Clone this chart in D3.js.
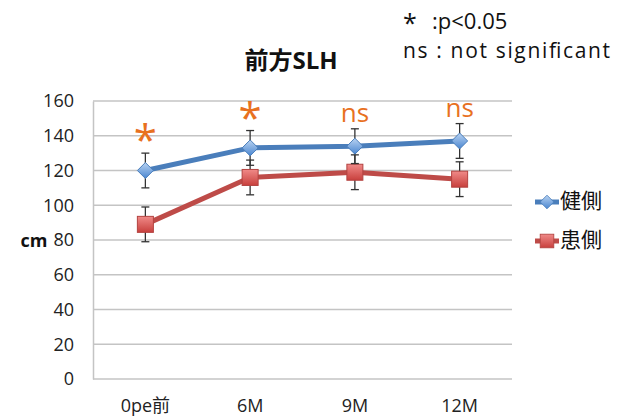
<!DOCTYPE html>
<html>
<head>
<meta charset="utf-8">
<script src="https://cdn.jsdelivr.net/npm/d3@7"></script>
<style>
  html, body { margin: 0; padding: 0; background: #fff; }
  svg { display: block; }
  text { font-family: "Open Sans", "Noto Sans CJK JP", sans-serif; }
</style>
</head>
<body>
<svg id="chart" width="617" height="416"></svg>
<script>
// Time points and measured means (cm) with error bars
const categories = ["0pe前", "6M", "9M", "12M"];
const healthySide = [120, 133, 134, 137];   // 健側
const affectedSide = [89, 116, 119, 115];   // 患側
const healthyErr = [10, 10, 10, 10];
const affectedErr = [10, 10, 10, 10];
const significance = ["*", "*", "ns", "ns"];
const yTicks = [0, 20, 40, 60, 80, 100, 120, 140, 160];
const seriesNames = ["健側", "患側"];

const svg = d3.select("#chart");
const margin = { left: 93, right: 105, top: 101, bottom: 37 };
const W = 617, H = 416;

const x = d3.scaleBand().domain(categories)
  .range([margin.left, W - margin.right]).paddingInner(0).paddingOuter(0);
const y = d3.scaleLinear().domain([0, 160]).range([H - margin.bottom, margin.top]);
const cx = c => x(c) + x.bandwidth() / 2;

// gradient fills for markers
const defs = svg.append("defs");
const gBlue = defs.append("linearGradient").attr("id", "gBlue").attr("x1", 0).attr("y1", 0).attr("x2", 0).attr("y2", 1);
gBlue.append("stop").attr("offset", "0%").attr("stop-color", "#b9d3f2");
gBlue.append("stop").attr("offset", "100%").attr("stop-color", "#4a86d0");
const gRed = defs.append("linearGradient").attr("id", "gRed").attr("x1", 0).attr("y1", 0).attr("x2", 0).attr("y2", 1);
gRed.append("stop").attr("offset", "0%").attr("stop-color", "#f08a88");
gRed.append("stop").attr("offset", "100%").attr("stop-color", "#c8403d");

// gridlines
svg.append("g").selectAll("line").data(yTicks).join("line")
  .attr("x1", margin.left).attr("x2", W - margin.right)
  .attr("y1", d => y(d)).attr("y2", d => y(d))
  .attr("stroke", "#c4c4c4").attr("stroke-width", 1.5);

// y axis
const yAxis = svg.append("g").attr("transform", `translate(${margin.left},0)`)
  .call(d3.axisLeft(y).tickValues(yTicks).tickSize(0).tickPadding(19));
yAxis.select(".domain").attr("stroke", "#c4c4c4").attr("stroke-width", 1.5);
yAxis.selectAll("text").attr("font-size", 18).attr("fill", "#222");

// x axis labels
const xAxis = svg.append("g").attr("transform", `translate(0,${y(0)})`)
  .call(d3.axisBottom(x).tickSize(0).tickPadding(20));
xAxis.select(".domain").remove();
xAxis.selectAll("text").attr("font-size", 18).attr("fill", "#222");

// y axis unit
svg.append("text").attr("x", 34).attr("y", y(80) + 2)
  .attr("text-anchor", "middle").attr("dominant-baseline", "middle")
  .attr("font-size", 18).attr("font-weight", "bold").attr("fill", "#111").text("cm");

// title
svg.append("text").attr("x", 291).attr("y", 63)
  .attr("text-anchor", "middle").attr("dominant-baseline", "middle")
  .attr("font-size", 24).attr("font-weight", "bold").attr("fill", "#111")
  .attr("font-family", "'Noto Sans CJK JP', sans-serif").text("前方SLH");

// significance note
const note = svg.append("g").attr("font-family", "'Liberation Sans', sans-serif")
  .attr("fill", "#111");
note.append("text").attr("x", 403).attr("y", 32).attr("font-size", 25).text("*");
note.append("text").attr("x", 432).attr("y", 29).attr("font-size", 22).text(":p<0.05");
note.append("text").attr("x", 403).attr("y", 58).attr("font-size", 21)
  .attr("textLength", 207).attr("lengthAdjust", "spacing").text("ns : not significant");

const series = [
  { name: seriesNames[0], values: healthySide, err: healthyErr, color: "#4a7ebb", fill: "url(#gBlue)", shape: "diamond" },
  { name: seriesNames[1], values: affectedSide, err: affectedErr, color: "#be4b48", fill: "url(#gRed)", shape: "square" }
];

const line = d3.line().x((d, i) => cx(categories[i])).y(d => y(d));

function marker(g, shape, fill, stroke) {
  if (shape === "diamond") {
    g.append("path").attr("d", "M0,-8L8,0L0,8L-8,0Z")
      .attr("fill", fill).attr("stroke", stroke).attr("stroke-width", 1);
  } else {
    g.append("rect").attr("x", -8).attr("y", -8).attr("width", 16).attr("height", 16)
      .attr("fill", fill).attr("stroke", "#b34340").attr("stroke-width", 1);
  }
}

// draw order: red series first, blue on top
[series[1], series[0]].forEach(s => {
  const g = svg.append("g");
  // error bars
  s.values.forEach((v, i) => {
    const px = cx(categories[i]);
    const eb = g.append("g").attr("stroke", "#333").attr("stroke-width", 1.3);
    eb.append("line").attr("x1", px).attr("x2", px).attr("y1", y(v + s.err[i])).attr("y2", y(v - s.err[i]));
    eb.append("line").attr("x1", px - 4).attr("x2", px + 4).attr("y1", y(v + s.err[i])).attr("y2", y(v + s.err[i]));
    eb.append("line").attr("x1", px - 4).attr("x2", px + 4).attr("y1", y(v - s.err[i])).attr("y2", y(v - s.err[i]));
  });
  g.append("path").datum(s.values).attr("d", line)
    .attr("fill", "none").attr("stroke", s.color).attr("stroke-width", 5)
    .attr("stroke-linejoin", "round");
  s.values.forEach((v, i) => {
    marker(g.append("g").attr("transform", `translate(${cx(categories[i])},${y(v)})`), s.shape, s.fill, s.color);
  });
});

// significance marks above the upper error bar
significance.forEach((m, i) => {
  const top = y(healthySide[i] + healthyErr[i]);
  const t = svg.append("text").attr("x", cx(categories[i]))
    .attr("text-anchor", "middle").attr("fill", "#e8711f");
  if (m === "*") {
    t.attr("y", top + 2).attr("font-size", 42).text("*");
  } else {
    t.attr("y", top - 7).attr("font-size", 26).text(m);
  }
});

// legend
series.forEach((s, i) => {
  const ly = 202 + i * 39;
  const lg = svg.append("g");
  lg.append("line").attr("x1", 535).attr("x2", 559).attr("y1", ly).attr("y2", ly)
    .attr("stroke", s.color).attr("stroke-width", 5);
  marker(lg.append("g").attr("transform", `translate(547,${ly}) scale(0.85)`), s.shape, s.fill, s.color);
  lg.append("text").attr("x", 560).attr("y", ly).attr("dominant-baseline", "middle")
    .attr("font-size", 21).attr("fill", "#111")
    .attr("font-family", "'Noto Sans CJK JP', sans-serif").text(s.name);
});
</script>
</body>
</html>
